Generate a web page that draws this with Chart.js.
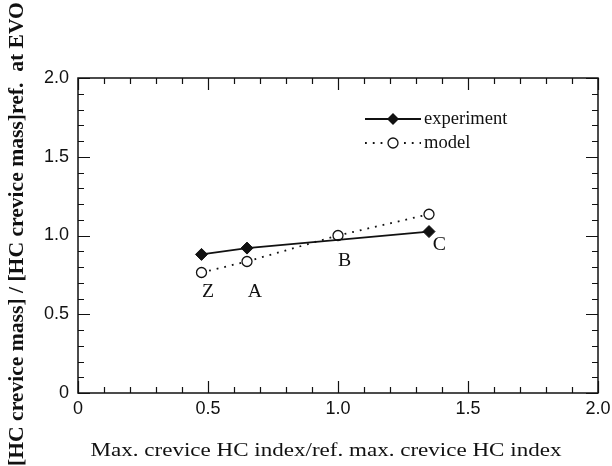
<!DOCTYPE html>
<html>
<head>
<meta charset="utf-8">
<script src="https://cdn.jsdelivr.net/npm/chart.js@4.4.0/dist/chart.umd.min.js"></script>
<style>
  html, body { margin: 0; padding: 0; background: #fff; }
  #wrap { width: 612px; height: 466px; }
</style>
</head>
<body>
<div id="wrap"><canvas id="chart"></canvas></div>
<script>
// values
const experimentX = [0.475, 0.65, 1.35];
const experimentY = [0.88, 0.92, 1.025];
const modelX = [0.475, 0.65, 1.0, 1.35];
const modelY = [0.765, 0.835, 1.0, 1.135];
const caseNames = ['Z', 'A', 'B', 'C'];
const caseLabelX = [0.5, 0.68, 1.025, 1.39];
const caseLabelY = [0.64, 0.64, 0.835, 0.94];
const xTickLabels = ['0', '0.5', '1.0', '1.5', '2.0'];
const yTickLabels = ['0', '0.5', '1.0', '1.5', '2.0'];
const xTitle = 'Max. crevice HC index/ref. max. crevice HC index';
const yTitle = '[HC crevice mass] / [HC crevice mass]ref.  at EVO';

const SERIF = '"Liberation Serif", "DejaVu Serif", serif';
const SANS = '"Liberation Sans", Arial, sans-serif';
const INK = '#111';

// text a bit wider than the font, like the scanned figure
function wideText(ctx, text, x, y, sx) {
  ctx.save();
  ctx.translate(x, y);
  ctx.scale(sx, 1);
  ctx.fillText(text, 0, 0);
  ctx.restore();
}

// frame, inward ticks, case letters, legend and axis titles
const decorations = {
  id: 'decorations',
  afterDraw(chart) {
    const ctx = chart.ctx;
    const a = chart.chartArea;
    const xs = chart.scales.x, ys = chart.scales.y;
    ctx.save();
    ctx.strokeStyle = INK;
    ctx.lineWidth = 1.5;
    ctx.strokeRect(a.left, a.top, a.right - a.left, a.bottom - a.top);

    ctx.lineWidth = 1.2;
    ctx.beginPath();
    for (let i = 0; i <= 20; i++) {
      const v = i / 10;
      const len = i % 5 === 0 ? 12 : 6;
      const px = Math.round(xs.getPixelForValue(v)) + 0.5;
      const py = Math.round(ys.getPixelForValue(v)) + 0.5;
      ctx.moveTo(px, a.bottom); ctx.lineTo(px, a.bottom - len);
      ctx.moveTo(px, a.top); ctx.lineTo(px, a.top + len);
      ctx.moveTo(a.left, py); ctx.lineTo(a.left + len, py);
      ctx.moveTo(a.right, py); ctx.lineTo(a.right - len, py);
    }
    ctx.stroke();

    ctx.fillStyle = INK;
    ctx.font = '18px ' + SERIF;
    ctx.textAlign = 'center';
    ctx.textBaseline = 'middle';
    caseNames.forEach((n, i) => {
      wideText(ctx, n, xs.getPixelForValue(caseLabelX[i]), ys.getPixelForValue(caseLabelY[i]), 1.1);
    });

    // legend
    const lx0 = 365, lx1 = 421, tx = 424;
    const rows = [119, 143];
    chart.data.datasets.forEach((ds, i) => {
      const y = rows[i];
      ctx.strokeStyle = INK;
      ctx.lineWidth = ds.borderWidth;
      ctx.setLineDash(ds.borderDash || []);
      ctx.beginPath();
      ctx.moveTo(lx0, y); ctx.lineTo(lx1, y);
      ctx.stroke();
      ctx.setLineDash([]);
      const cx = 393;
      ctx.lineWidth = 1.3;
      if (ds.pointStyle === 'rectRot') {
        const r = ds.pointRadius;
        ctx.fillStyle = INK;
        ctx.beginPath();
        ctx.moveTo(cx, y - r); ctx.lineTo(cx + r, y); ctx.lineTo(cx, y + r); ctx.lineTo(cx - r, y);
        ctx.closePath();
        ctx.fill();
      } else {
        ctx.fillStyle = '#fff';
        ctx.beginPath();
        ctx.arc(cx, y, ds.pointRadius, 0, Math.PI * 2);
        ctx.fill(); ctx.stroke();
      }
      ctx.fillStyle = INK;
      ctx.textAlign = 'left';
      ctx.font = '18px ' + SERIF;
      wideText(ctx, ds.label, tx, y, 1.03);
    });

    // axis titles
    ctx.textAlign = 'center';
    ctx.font = '18px ' + SERIF;
    wideText(ctx, xTitle, 326, 451, 1.28);
    ctx.save();
    ctx.translate(18, 234);
    ctx.rotate(-Math.PI / 2);
    ctx.font = 'bold 20px ' + SERIF;
    wideText(ctx, yTitle, 0, 0, 1.08);
    ctx.restore();
    ctx.restore();
  }
};

new Chart(document.getElementById('chart'), {
  type: 'line',
  data: {
    datasets: [{
      label: 'experiment',
      data: experimentX.map((x, i) => ({ x: x, y: experimentY[i] })),
      borderColor: INK,
      backgroundColor: INK,
      borderWidth: 1.8,
      pointStyle: 'rectRot',
      pointRadius: 6,
      pointBorderWidth: 1,
      tension: 0
    }, {
      label: 'model',
      data: modelX.map((x, i) => ({ x: x, y: modelY[i] })),
      borderColor: INK,
      backgroundColor: '#fff',
      borderWidth: 1.8,
      borderDash: [1.8, 6],
      pointStyle: 'circle',
      pointRadius: 5,
      pointBorderWidth: 1.3,
      tension: 0
    }]
  },
  options: {
    responsive: true,
    maintainAspectRatio: false,
    animation: false,
    layout: { padding: { top: 78, right: 14, left: 0, bottom: 0 } },
    plugins: { legend: { display: false }, tooltip: { enabled: false } },
    scales: {
      x: {
        type: 'linear', min: 0, max: 2,
        grid: { display: false, drawTicks: false },
        border: { display: false },
        ticks: {
          stepSize: 0.5, padding: 5, color: INK, maxRotation: 0,
          font: { family: SANS, size: 18 },
          callback: (v, i) => xTickLabels[i]
        },
        afterFit: s => { s.height = 73; s.paddingRight = 0; s.paddingLeft = 0; }
      },
      y: {
        type: 'linear', min: 0, max: 2,
        grid: { display: false, drawTicks: false },
        border: { display: false },
        ticks: {
          stepSize: 0.5, padding: 9, color: INK,
          font: { family: SANS, size: 18 },
          callback: (v, i) => yTickLabels[i]
        },
        afterFit: s => { s.width = 78; s.paddingTop = 0; s.paddingBottom = 0; }
      }
    }
  },
  plugins: [decorations]
});
</script>
</body>
</html>
